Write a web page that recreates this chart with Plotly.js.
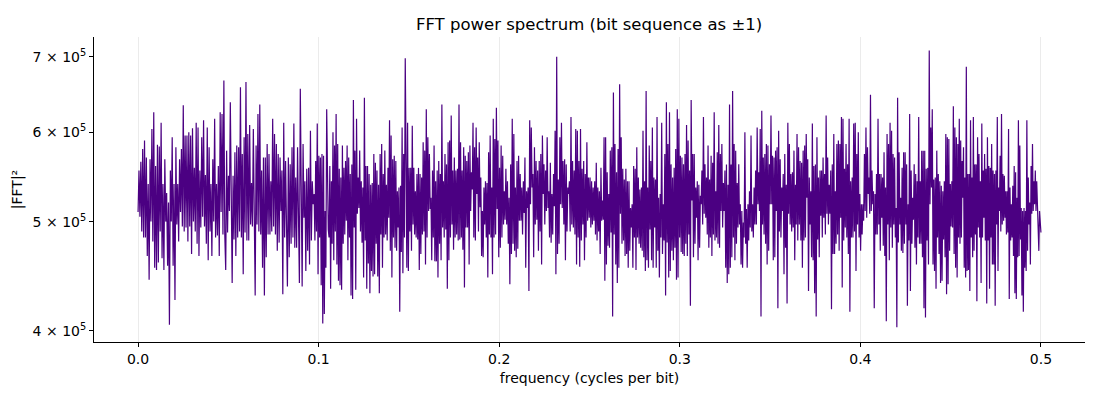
<!DOCTYPE html>
<html>
<head>
<meta charset="utf-8">
<script src="https://cdn.plot.ly/plotly-3.0.1.min.js"></script>
<style>
  html, body { margin: 0; padding: 0; background: #ffffff; }
  #chart { width: 1100px; height: 400px; }
</style>
</head>
<body>
<div id="chart"></div>
<script>
// Frequency band edges (cycles per bit): each band below holds the |FFT|² values read in it
const bandEdges = [0, 0.0465, 0.0975, 0.1484, 0.1993, 0.2503, 0.3012, 0.3522, 0.4031, 0.4540, 0.5];

// |FFT|² values, in units of 10^3, band by band
const band1 = [510, 555, 505, 565, 490, 580, 484, 590, 484, 570, 466, 540, 444, 568, 500, 604, 480, 625, 455, 560, 453, 585, 460, 583, 490, 612, 464, 540, 453, 568, 500, 530, 457, 520, 405, 555, 500, 594, 457, 540, 426, 582, 497, 540, 480, 568, 510, 580, 495, 634, 490, 596, 494, 596, 480, 600, 495, 596, 468, 605, 500, 558, 490, 612, 478, 606, 466, 555, 494, 594, 505, 615, 495, 550, 478, 606, 462, 582, 490, 540, 466, 568, 500, 617, 484, 540, 486, 560, 466, 625, 510];
const band2 = [623, 487, 667, 487, 453, 578, 489, 549, 511, 638, 487, 441, 549, 482, 576, 466, 584, 484, 582, 490, 658, 484, 574, 449, 594, 489, 665, 481, 598, 481, 609, 497, 541, 495, 604, 511, 430, 584, 497, 623, 490, 635, 487, 555, 455, 570, 430, 570, 465, 586, 487, 574, 487, 543, 490, 617, 495, 598, 487, 586, 471, 574, 479, 570, 511, 555, 431, 612, 484, 566, 481, 438, 570, 465, 562, 478, 582, 484, 611, 474, 547, 474, 582, 482, 441, 656, 487, 438, 586, 504, 543, 452, 557, 471, 558, 458, 602, 481, 543, 518];
const band3 = [529, 481, 566, 490, 611, 449, 572, 484, 570, 439, 574, 406, 572, 414, 511, 455, 629, 497, 492, 484, 560, 436, 543, 478, 600, 462, 584, 490, 623, 458, 586, 443, 557, 439, 547, 435, 584, 478, 558, 487, 566, 501, 584, 462, 570, 484, 551, 430, 562, 427, 641, 494, 578, 435, 617, 508, 547, 514, 578, 490, 543, 479, 536, 446, 644, 481, 560, 436, 560, 459, 551, 432, 539, 452, 541, 447, 574, 449, 564, 478, 555, 447, 539, 432, 574, 487, 586, 455, 551, 484, 578, 487, 539, 481, 558, 504, 615, 471, 596, 446, 568, 484, 572, 474, 566, 471, 532, 494, 536, 416, 538, 470, 606, 450, 574, 484, 698];
const band4 = [574, 455, 612, 452, 558, 490, 558, 471, 608, 497, 558, 487, 532, 484, 551, 482, 558, 453, 551, 468, 547, 487, 588, 490, 578, 458, 629, 484, 594, 511, 574, 513, 525, 462, 555, 484, 584, 461, 543, 461, 555, 446, 566, 478, 551, 462, 635, 494, 543, 484, 574, 492, 562, 436, 588, 462, 590, 484, 621, 497, 555, 472, 570, 484, 555, 487, 557, 481, 635, 482, 588, 484, 555, 472, 582, 437, 572, 494, 566, 494, 576, 458, 584, 511, 553, 534, 612, 484, 582, 481, 606, 529, 570, 490, 588, 515, 547, 466, 511, 465, 536, 497, 543, 484, 541, 446, 576, 487, 596, 484, 536, 449, 617, 484, 592, 487, 631, 513];
const band5 = [590, 465, 558, 474, 584, 484, 572, 497, 532, 502, 557, 497, 543, 478, 525, 440, 562, 468, 617, 478, 598, 471, 536, 465, 566, 473, 572, 501, 551, 501, 536, 487, 543, 509, 570, 455, 532, 514, 536, 434, 615, 518, 606, 536, 551, 465, 582, 497, 566, 502, 555, 471, 566, 490, 574, 458, 596, 529, 562, 497, 555, 511, 594, 514, 532, 484, 564, 479, 529, 487, 551, 516, 602, 449, 700, 468, 545, 478, 594, 518, 612, 514, 566, 497, 568, 462, 562, 490, 536, 529, 543, 490, 619, 497, 566, 494, 555, 487, 604, 458, 602, 484, 566, 456, 604, 481, 557, 497, 566, 462, 551, 484, 588, 501, 547, 504];
const band6 = [547, 494, 543, 497, 536, 501, 543, 487, 564, 481, 536, 490, 532, 468, 558, 501, 522, 502, 594, 443, 594, 458, 553, 476, 529, 474, 578, 489, 582, 412, 651, 487, 586, 458, 553, 441, 580, 455, 662, 508, 594, 478, 557, 481, 545, 466, 557, 468, 543, 455, 543, 471, 514, 494, 518, 455, 560, 484, 557, 453, 582, 484, 547, 478, 534, 474, 536, 471, 602, 465, 543, 452, 653, 462, 536, 455, 584, 492, 566, 462, 606, 455, 547, 494, 545, 455, 619, 471, 525, 446, 529, 484, 612, 468, 518, 481, 574, 430, 638, 479, 586, 446, 625, 452, 562, 471, 547, 462, 558, 474, 580, 444, 629, 446, 617, 484, 572, 470];
const band7 = [570, 468, 562, 466, 574, 478, 609, 466, 590, 487, 555, 421, 641, 522, 574, 465, 574, 478, 536, 504, 543, 462, 539, 474, 527, 518, 555, 497, 619, 508, 562, 504, 547, 487, 584, 474, 545, 484, 572, 466, 564, 487, 625, 481, 532, 484, 576, 478, 609, 474, 574, 511, 586, 494, 541, 511, 555, 455, 562, 441, 539, 449, 635, 455, 562, 465, 653, 484, 586, 462, 578, 478, 541, 494, 562, 497, 518, 458, 511, 455, 499, 484, 600, 478, 513, 455, 518, 481, 532, 494, 596, 490, 518, 484, 536, 497, 555, 497, 606, 518, 553, 511, 604, 412, 627, 497, 570, 487, 574, 478, 586, 458, 584, 471, 562, 518, 621, 518, 572, 462];
const band8 = [570, 465, 578, 511, 582, 419, 602, 490, 568, 484, 536, 511, 551, 449, 574, 474, 539, 423, 612, 508, 586, 497, 551, 490, 553, 494, 578, 462, 539, 497, 598, 481, 582, 497, 566, 481, 564, 455, 578, 481, 584, 484, 598, 525, 568, 434, 547, 497, 532, 465, 611, 462, 560, 432, 562, 412, 594, 482, 547, 465, 555, 506, 555, 484, 570, 504, 551, 487, 621, 508, 570, 497, 539, 508, 555, 418, 562, 468, 598, 468, 532, 478, 586, 487, 590, 471, 586, 504, 619, 437, 617, 481, 557, 494, 586, 484, 562, 468, 617, 416, 543, 484, 547, 484, 611, 490, 612, 452, 574, 497, 600, 484, 529, 471, 518, 487, 518, 501, 574, 511];
const band9 = [606, 504, 582, 529, 547, 508, 648, 511, 555, 518, 532, 419, 529, 487, 551, 487, 617, 497, 551, 471, 551, 504, 547, 476, 576, 466, 536, 408, 598, 497, 586, 462, 612, 494, 602, 474, 574, 497, 570, 484, 514, 403, 644, 479, 576, 497, 525, 471, 558, 469, 576, 478, 576, 497, 562, 421, 518, 481, 623, 434, 555, 478, 525, 502, 562, 474, 551, 458, 543, 484, 619, 478, 543, 478, 578, 465, 578, 419, 578, 411, 557, 481, 558, 458, 709, 518, 606, 536, 629, 458, 545, 452, 547, 436, 578, 484, 551, 468, 543, 441, 538, 443, 532, 482, 543, 465, 598, 431, 594, 440, 592, 471, 540, 495, 543, 494, 633, 468, 606, 455, 594, 446];
const band10 = [586, 484, 617, 478, 590, 484, 566, 525, 582, 455, 547, 446, 686, 452, 551, 453, 551, 434, 615, 484, 547, 465, 619, 471, 562, 487, 562, 425, 594, 494, 574, 484, 543, 441, 611, 484, 555, 504, 574, 481, 557, 423, 594, 481, 560, 436, 558, 484, 586, 458, 555, 458, 551, 421, 555, 497, 619, 452, 536, 511, 572, 490, 623, 497, 551, 501, 549, 504, 532, 487, 532, 489, 604, 427, 536, 481, 518, 484, 538, 466, 560, 432, 553, 427, 525, 465, 615, 466, 584, 482, 514, 430, 511, 416, 514, 455, 511, 452, 615, 471, 547, 497, 520, 458, 560, 508, 586, 511, 543, 518, 555, 511, 543, 518, 511, 471, 511, 494, 489];

const bands = [band1, band2, band3, band4, band5, band6, band7, band8, band9, band10];

// Tick labels
const xTickVals = [0.0, 0.1, 0.2, 0.3, 0.4, 0.5];
const xTickText = ['0.0', '0.1', '0.2', '0.3', '0.4', '0.5'];
const yTickVals = [400000, 500000, 600000, 700000];
const yTickText = ['4 × 10<sup>5</sup>', '5 × 10<sup>5</sup>', '6 × 10<sup>5</sup>', '7 × 10<sup>5</sup>'];

// Build the frequency/power series from the bands
const freq = [];
const power = [];
bands.forEach(function (vals, k) {
  const f0 = bandEdges[k], f1 = bandEdges[k + 1];
  const last = (k === bands.length - 1);
  const n = vals.length;
  const step = last ? (f1 - f0) / (n - 1) : (f1 - f0) / n;
  vals.forEach(function (v, i) {
    freq.push(f0 + i * step);
    power.push(v * 1000);
  });
});

const trace = {
  x: freq,
  y: power,
  type: 'scatter',
  mode: 'lines',
  line: { color: '#4b0082', width: 1.2 },
  hoverinfo: 'x+y'
};

const fontFam = 'DejaVu Sans, sans-serif';

const layout = {
  width: 1100,
  height: 400,
  paper_bgcolor: '#ffffff',
  plot_bgcolor: '#ffffff',
  margin: { l: 94, r: 15, t: 37, b: 58 },
  showlegend: false,
  font: { family: fontFam, size: 14, color: '#000000' },
  title: {
    text: 'FFT power spectrum (bit sequence as ±1)',
    font: { family: fontFam, size: 16.5, color: '#000000' },
    x: 0.5355, xanchor: 'center',
    y: 0.94, yanchor: 'middle'
  },
  xaxis: {
    range: [-0.0244, 0.5244],
    tickvals: xTickVals,
    ticktext: xTickText,
    showgrid: true,
    gridcolor: '#ebebeb',
    gridwidth: 1,
    zeroline: false,
    showline: true,
    linecolor: '#000000',
    linewidth: 1,
    ticks: 'outside',
    ticklen: 4,
    tickwidth: 1,
    tickcolor: '#000000',
    tickfont: { family: fontFam, size: 14, color: '#000000' },
    title: {
      text: 'frequency (cycles per bit)',
      font: { family: fontFam, size: 14, color: '#000000' },
      standoff: 7
    }
  },
  yaxis: {
    type: 'log',
    range: [Math.log10(391000), Math.log10(729000)],
    tickvals: yTickVals,
    ticktext: yTickText,
    showgrid: false,
    zeroline: false,
    showline: true,
    linecolor: '#000000',
    linewidth: 1,
    ticks: 'outside',
    ticklen: 4,
    tickwidth: 1,
    tickcolor: '#000000',
    tickfont: { family: fontFam, size: 14, color: '#000000' },
    title: {
      text: '|FFT|²',
      font: { family: fontFam, size: 14, color: '#000000' },
      standoff: 6
    }
  }
};

Plotly.newPlot('chart', [trace], layout, { displayModeBar: false, staticPlot: true });
</script>
</body>
</html>
